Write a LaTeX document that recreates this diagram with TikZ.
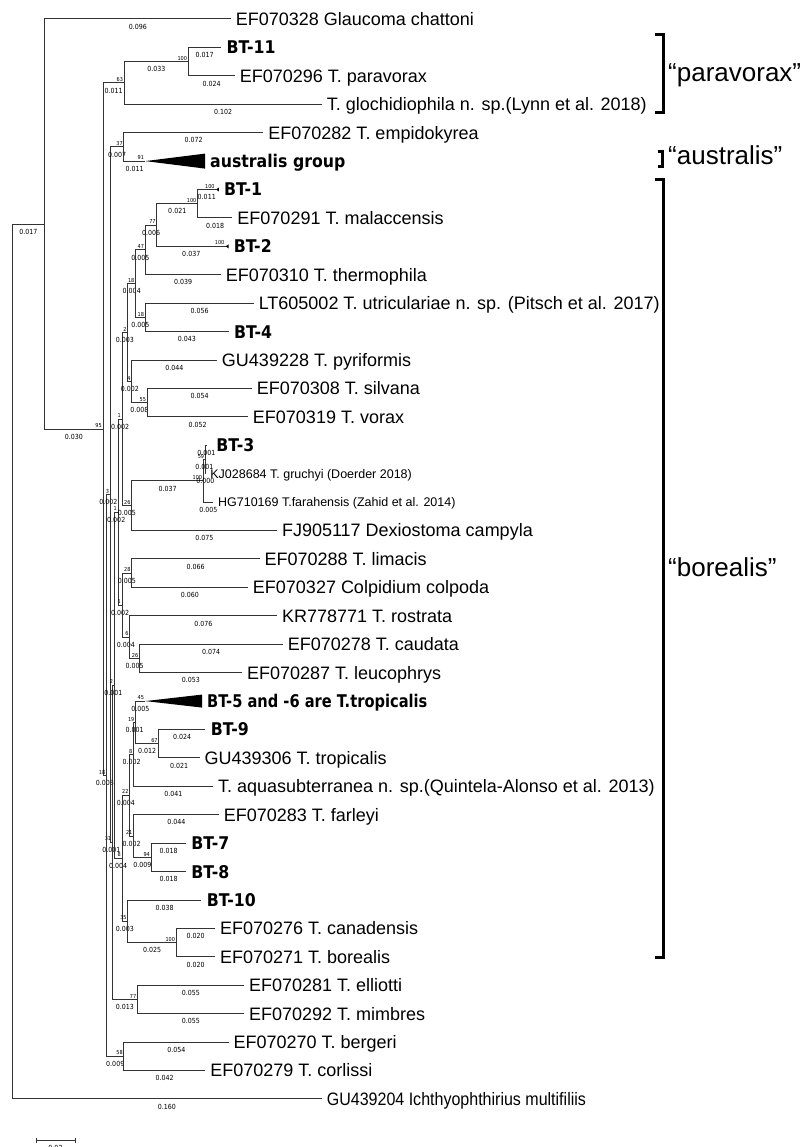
\documentclass[tikz,border=0pt]{standalone}
\usepackage{fontspec}
\setmainfont{Liberation Sans}
\newfontfamily\megafont{DejaVu Sans}[FakeStretch=0.9]
\usetikzlibrary{calc, math}
\definecolor{treegray}{RGB}{51,51,51}

\tikzset{
  branch/.style={draw=treegray, line width=1pt},
  clade/.style={fill=black},
  leaf/.style={anchor=base west, inner sep=0pt, xshift=4.5pt, yshift=-6.4pt, font=\fontsize{18}{20}\selectfont},
  bleaf/.style={anchor=base west, inner sep=0pt, xshift=5pt, yshift=-6.4pt, font=\megafont\bfseries\fontsize{17.5}{20}\selectfont},
  sleaf/.style={anchor=base west, inner sep=0pt, xshift=4.5pt, yshift=-4.5pt, font=\fontsize{12.5}{14}\selectfont},
  boot/.style={anchor=south east, inner sep=0.8pt, font=\megafont\fontsize{5.5}{6}\selectfont},
  blen/.style={anchor=north, inner sep=0pt, yshift=-4.5pt, font=\megafont\fontsize{7}{8}\selectfont},
  group/.style={anchor=base west, inner sep=0pt, font=\fontsize{26}{30}\selectfont},
  bracket/.style={draw=black, line width=3pt},
}

\begin{document}
\begin{tikzpicture}[x=1pt, y=-1pt]
\useasboundingbox (0,0) rectangle (803,1147);
\tikzmath{
\px=1937; % pixels per unit of branch length
\xR=12;
\xA=\xR+0.017*\px;
\xB=\xA+0.030*\px;
\xPa=\xB+0.011*\px;
\xPb=\xPa+0.033*\px;
\xQ=\xB+3.5;
\xD=\xQ+0.002*\px;
\xE=\xD+0.007*\px;
\xC=\xD+0.001*\px;
\xU=\xC+0.001*\px;
\xM=\xU+0.002*\px;
\xL=\xM+0.002*\px;
\xF=\xL+0.003*\px;
\xG=\xF+0.004*\px;
\xH=\xG+0.005*\px;
\xI=\xH+0.006*\px;
\xJ=\xI+0.021*\px;
\xK=\xG+0.005*\px;
\xN=\xF+0.002*\px;
\xO=\xN+0.008*\px;
\xS=\xL+0.005*\px;
\xT=\xS+0.037*\px;
\xV=\xT+0.001*\px;
\xW=\xM+0.002*\px;
\xX=\xW+0.005*\px;
\xY=\xW+0.004*\px;
\xZ=\xY+0.005*\px;
\xAa=\xU+0.004*\px;
\xAb=\xAa+0.004*\px;
\xAc=\xAb+0.002*\px;
\xAd=\xAc+0.001*\px;
\xAe=\xAd+0.012*\px;
\xAf=\xAb+0.002*\px;
\xAg=\xAf+0.009*\px;
\xAh=\xAa+0.003*\px;
\xAi=\xAh+0.025*\px;
\xAj=\xC+0.013*\px;
\xAk=\xQ+0.009*\px;
}

%inner nodes:
\coordinate (root) at (\xR,661.53);
\coordinate (nA) at (\xA,224.1);
\coordinate (nB) at (\xB,429.21);
\coordinate (nP) at (\xPa,82.95);
\coordinate (nPp) at (\xPb,61.63);
\coordinate (nQ) at (\xQ,775.48);
\coordinate (nD) at (\xD,494.62);
\coordinate (nE) at (\xE,146.89);
\coordinate (nC) at (\xC,842.35);
\coordinate (nU) at (\xU,685.2);
\coordinate (nM) at (\xM,512.13);
\coordinate (nL) at (\xL,419.1);
\coordinate (nF) at (\xF,332.51);
\coordinate (nG) at (\xG,283.66);
\coordinate (nH) at (\xH,249.91);
\coordinate (nI) at (\xI,225.05);
\coordinate (nJ) at (\xJ,203.73);
\coordinate (nK) at (\xK,317.41);
\coordinate (nN) at (\xN,381.36);
\coordinate (nO) at (\xO,402.67);
\coordinate (nS) at (\xS,505.69);
\coordinate (nT) at (\xT,480.83);
\coordinate (nV) at (\xV,459.51);
\coordinate (nW) at (\xW,605.16);
\coordinate (nX) at (\xX,573.19);
\coordinate (nY) at (\xY,637.14);
\coordinate (nZ) at (\xZ,658.45);
\coordinate (nAa) at (\xAa,858.28);
\coordinate (nAb) at (\xAb,795.22);
\coordinate (nAc) at (\xAc,754.37);
\coordinate (nAd) at (\xAd,722.4);
\coordinate (nAe) at (\xAe,743.71);
\coordinate (nAf) at (\xAf,836.08);
\coordinate (nAg) at (\xAg,857.39);
\coordinate (nAh) at (\xAh,921.34);
\coordinate (nAi) at (\xAi,942.65);
\coordinate (nAj) at (\xAj,999.49);
\coordinate (nAk) at (\xAk,1056.33);

%tips:
\coordinate (gla) at ({\xA+0.096*\px},19);
\coordinate (bt11) at ({\xPb+0.017*\px},47.42);
\coordinate (para) at ({\xPb+0.024*\px},75.84);
\coordinate (glo) at ({\xPa+0.102*\px},104.26);
\coordinate (emp) at ({\xE+0.072*\px},132.68);
\coordinate (aus) at ({\xE+0.011*\px},161.1);
\coordinate (ausR) at (205,161.1);
\coordinate (bt1) at ({\xJ+0.011*\px-3},189.52);
\coordinate (mal) at ({\xJ+0.018*\px},217.94);
\coordinate (bt2) at ({\xI+0.037*\px-3},246.36);
\coordinate (the) at ({\xH+0.039*\px},274.78);
\coordinate (utr) at ({\xK+0.056*\px},303.2);
\coordinate (bt4) at ({\xK+0.043*\px},331.62);
\coordinate (pyr) at ({\xN+0.044*\px},360.04);
\coordinate (sil) at ({\xO+0.054*\px},388.46);
\coordinate (vor) at ({\xO+0.052*\px},416.88);
\coordinate (bt3) at ({\xV+0.001*\px},445.3);
\coordinate (gru) at (\xV,473.72);
\coordinate (far) at ({\xT+0.005*\px},502.14);
\coordinate (dex) at ({\xS+0.075*\px},530.56);
\coordinate (lim) at ({\xX+0.066*\px},558.98);
\coordinate (col) at ({\xX+0.060*\px},587.4);
\coordinate (ros) at ({\xY+0.076*\px},615.82);
\coordinate (cau) at ({\xZ+0.074*\px},644.24);
\coordinate (leu) at ({\xZ+0.053*\px},672.66);
\coordinate (tro) at ({\xAd+0.005*\px},701.08);
\coordinate (troR) at (202,701.08);
\coordinate (bt9) at ({\xAe+0.024*\px},729.5);
\coordinate (trp) at ({\xAe+0.021*\px},757.92);
\coordinate (aqu) at ({\xAc+0.041*\px},786.34);
\coordinate (fle) at ({\xAf+0.044*\px},814.76);
\coordinate (bt7) at ({\xAg+0.018*\px},843.18);
\coordinate (bt8) at ({\xAg+0.018*\px},871.6);
\coordinate (bt10) at ({\xAh+0.038*\px},900.02);
\coordinate (can) at ({\xAi+0.020*\px},928.44);
\coordinate (bor) at ({\xAi+0.020*\px},956.86);
\coordinate (ell) at ({\xAj+0.055*\px},985.28);
\coordinate (mim) at ({\xAj+0.055*\px},1013.7);
\coordinate (ber) at ({\xAk+0.054*\px},1042.12);
\coordinate (cor) at ({\xAk+0.042*\px},1070.54);
\coordinate (ich) at ({\xR+0.160*\px},1098.96);

%root and outgroups
\draw[branch] (root) |- (nA) node[blen,pos=.75] (lA) {0.017};
\draw[branch] (root) |- (ich) node[blen,pos=.75] (lIch) {0.160} node[leaf,pos=1,xscale=.89] (tIch) {GU439204 Ichthyophthirius multifiliis};
\draw[branch] (nA) |- (gla) node[blen,pos=.75] (lGla) {0.096} node[leaf,pos=1] (tGla) {EF070328 Glaucoma chattoni};
\draw[branch] (nA) |- (nB) node[blen,pos=.75] (lB) {0.030} node[boot,pos=1] (bB) {95};

%paravorax
\draw[branch] (nB) |- (nP) node[blen,pos=.75] (lP) {0.011} node[boot,pos=1] (bP) {63};
\draw[branch] (nP) |- (nPp) node[blen,pos=.75] (lPp) {0.033} node[boot,pos=1] (bPp) {100};
\draw[branch] (nPp) |- (bt11) node[blen,pos=.75] (lBt11) {0.017} node[bleaf,pos=1] (tBt11) {BT-11};
\draw[branch] (nPp) |- (para) node[blen,pos=.75] (lPara) {0.024} node[leaf,pos=1] (tPara) {EF070296 T. paravorax};
\draw[branch] (nP) |- (glo) node[blen,pos=.75] (lGlo) {0.102} node[leaf,pos=1] (tGlo) {T. glochidiophila n. sp.(Lynn et al. 2018)};

%backbone
\draw[branch] (nB) |- (nQ) node[blen,pos=.75] (lQ) {0.008} node[boot,pos=1] (bQ) {18};
\draw[branch] (nQ) |- (nD) node[blen,pos=.75] (lD) {0.002} node[boot,pos=1] (bD) {3};
\draw[branch] (nD) |- (nE) node[blen,pos=.75] (lE) {0.007} node[boot,pos=1] (bE) {37};
\draw[branch] (nD) |- (nC) node[blen,pos=.75] (lC) {0.001} node[boot,pos=1] (bC) {31};
\draw[branch] (nC) |- (nU) node[blen,pos=.75] (lU) {0.001} node[boot,pos=1] (bU) {2};
\draw[branch] (nU) |- (nM) node[blen,pos=.75] (lM) {0.002} node[boot,pos=1] (bM) {1};
\draw[branch] (nM) |- (nL) node[blen,pos=.75] (lL) {0.002} node[boot,pos=1] (bL) {1};
\draw[branch] (nM) |- (nW) node[blen,pos=.75] (lW) {0.002} node[boot,pos=1] (bW) {1};
\draw[branch] (nU) |- (nAa) node[blen,pos=.75] (lAa) {0.004} node[boot,pos=1] (bAa) {8};
\draw[branch] (nC) |- (nAj) node[blen,pos=.75] (lAj) {0.013} node[boot,pos=1] (bAj) {77};
\draw[branch] (nQ) |- (nAk) node[blen,pos=.75] (lAk) {0.009} node[boot,pos=1] (bAk) {58};

%australis
\draw[branch] (nE) |- (emp) node[blen,pos=.75] (lEmp) {0.072} node[leaf,pos=1] (tEmp) {EF070282 T. empidokyrea};
\draw[branch] (nE) |- (aus) node[blen,pos=.75] (lAus) {0.011} node[boot,pos=1] (bAus) {91};
\fill[clade] (aus) -- ($(ausR)+(0,-7.5)$) -- ($(ausR)+(0,7.5)$) -- cycle;
\node[bleaf] (tAus) at (ausR) {australis group};

%BT-1, BT-2, thermophila, BT-4
\draw[branch] (nL) |- (nF) node[blen,pos=.75] (lF) {0.003} node[boot,pos=1] (bF) {2};
\draw[branch] (nF) |- (nG) node[blen,pos=.75] (lG) {0.004} node[boot,pos=1] (bG) {18};
\draw[branch] (nG) |- (nH) node[blen,pos=.75] (lH) {0.005} node[boot,pos=1] (bH) {47};
\draw[branch] (nH) |- (nI) node[blen,pos=.75] (lI) {0.006} node[boot,pos=1] (bI) {77};
\draw[branch] (nI) |- (nJ) node[blen,pos=.75] (lJ) {0.021} node[boot,pos=1] (bJ) {100};
\draw[branch] (nJ) |- (bt1) node[blen,pos=.75] (lBt1) {0.011} node[boot,pos=1] (bBt1) {100};
\fill[clade] (bt1) -- ++(3,-2) -- ++(0,4) -- cycle;
\node[bleaf,xshift=3pt] (tBt1) at (bt1) {BT-1};
\draw[branch] (nJ) |- (mal) node[blen,pos=.75] (lMal) {0.018} node[leaf,pos=1] (tMal) {EF070291 T. malaccensis};
\draw[branch] (nI) |- (bt2) node[blen,pos=.75] (lBt2) {0.037} node[boot,pos=1] (bBt2) {100};
\fill[clade] (bt2) -- ++(3,-2) -- ++(0,4) -- cycle;
\node[bleaf,xshift=3pt] (tBt2) at (bt2) {BT-2};
\draw[branch] (nH) |- (the) node[blen,pos=.75] (lThe) {0.039} node[leaf,pos=1] (tThe) {EF070310 T. thermophila};
\draw[branch] (nG) |- (nK) node[blen,pos=.75] (lK) {0.005} node[boot,pos=1] (bK) {18};
\draw[branch] (nK) |- (utr) node[blen,pos=.75] (lUtr) {0.056} node[leaf,pos=1] (tUtr) {LT605002 T. utriculariae n. sp. (Pitsch et al. 2017)};
\draw[branch] (nK) |- (bt4) node[blen,pos=.75] (lBt4) {0.043} node[bleaf,pos=1] (tBt4) {BT-4};
\draw[branch] (nF) |- (nN) node[blen,pos=.75] (lN) {0.002} node[boot,pos=1] (bN) {4};
\draw[branch] (nN) |- (pyr) node[blen,pos=.75] (lPyr) {0.044} node[leaf,pos=1] (tPyr) {GU439228 T. pyriformis};
\draw[branch] (nN) |- (nO) node[blen,pos=.75] (lO) {0.008} node[boot,pos=1] (bO) {55};
\draw[branch] (nO) |- (sil) node[blen,pos=.75] (lSil) {0.054} node[leaf,pos=1] (tSil) {EF070308 T. silvana};
\draw[branch] (nO) |- (vor) node[blen,pos=.75] (lVor) {0.052} node[leaf,pos=1] (tVor) {EF070319 T. vorax};

%BT-3 and Dexiostoma
\draw[branch] (nL) |- (nS) node[blen,pos=.75] (lS) {0.005} node[boot,pos=1] (bS) {26};
\draw[branch] (nS) |- (nT) node[blen,pos=.75] (lT) {0.037} node[boot,pos=1] (bT) {100};
\draw[branch] (nT) |- (nV) node[blen,pos=.75] (lV) {0.001} node[boot,pos=1] (bV) {59};
\draw[branch] (nV) |- (bt3) node[blen,pos=.75] (lBt3) {0.001} node[bleaf,pos=1,xshift=3.5pt] (tBt3) {BT-3};
\draw[branch] (nV) |- (gru) node[blen,pos=.75] (lGru) {0.000} node[sleaf,pos=1] (tGru) {KJ028684 T. gruchyi (Doerder 2018)};
\draw[branch] (nT) |- (far) node[blen,pos=.75] (lFar) {0.005} node[sleaf,pos=1] (tFar) {HG710169 T.farahensis (Zahid et al. 2014)};
\draw[branch] (nS) |- (dex) node[blen,pos=.75] (lDex) {0.075} node[leaf,pos=1] (tDex) {FJ905117 Dexiostoma campyla};

%limacis to leucophrys
\draw[branch] (nW) |- (nX) node[blen,pos=.75] (lX) {0.005} node[boot,pos=1] (bX) {28};
\draw[branch] (nX) |- (lim) node[blen,pos=.75] (lLim) {0.066} node[leaf,pos=1] (tLim) {EF070288 T. limacis};
\draw[branch] (nX) |- (col) node[blen,pos=.75] (lCol) {0.060} node[leaf,pos=1] (tCol) {EF070327 Colpidium colpoda};
\draw[branch] (nW) |- (nY) node[blen,pos=.75] (lY) {0.004} node[boot,pos=1] (bY) {6};
\draw[branch] (nY) |- (ros) node[blen,pos=.75] (lRos) {0.076} node[leaf,pos=1] (tRos) {KR778771 T. rostrata};
\draw[branch] (nY) |- (nZ) node[blen,pos=.75] (lZ) {0.005} node[boot,pos=1] (bZ) {26};
\draw[branch] (nZ) |- (cau) node[blen,pos=.75] (lCau) {0.074} node[leaf,pos=1] (tCau) {EF070278 T. caudata};
\draw[branch] (nZ) |- (leu) node[blen,pos=.75] (lLeu) {0.053} node[leaf,pos=1] (tLeu) {EF070287 T. leucophrys};

%tropicalis to borealis
\draw[branch] (nAa) |- (nAb) node[blen,pos=.75] (lAb) {0.004} node[boot,pos=1] (bAb) {22};
\draw[branch] (nAb) |- (nAc) node[blen,pos=.75] (lAc) {0.002} node[boot,pos=1] (bAc) {8};
\draw[branch] (nAc) |- (nAd) node[blen,pos=.75] (lAd) {0.001} node[boot,pos=1] (bAd) {19};
\draw[branch] (nAd) |- (tro) node[blen,pos=.75] (lTro) {0.005} node[boot,pos=1] (bTro) {45};
\fill[clade] (tro) -- ($(troR)+(0,-6.5)$) -- ($(troR)+(0,6.5)$) -- cycle;
\node[bleaf,xscale=.93] (tTro) at (troR) {BT-5 and -6 are T.tropicalis};
\draw[branch] (nAd) |- (nAe) node[blen,pos=.75] (lAe) {0.012} node[boot,pos=1] (bAe) {67};
\draw[branch] (nAe) |- (bt9) node[blen,pos=.75] (lBt9) {0.024} node[bleaf,pos=1] (tBt9) {BT-9};
\draw[branch] (nAe) |- (trp) node[blen,pos=.75] (lTrp) {0.021} node[leaf,pos=1] (tTrp) {GU439306 T. tropicalis};
\draw[branch] (nAc) |- (aqu) node[blen,pos=.75] (lAqu) {0.041} node[leaf,pos=1] (tAqu) {T. aquasubterranea n. sp.(Quintela-Alonso et al. 2013)};
\draw[branch] (nAb) |- (nAf) node[blen,pos=.75] (lAf) {0.002} node[boot,pos=1] (bAf) {21};
\draw[branch] (nAf) |- (fle) node[blen,pos=.75] (lFle) {0.044} node[leaf,pos=1] (tFle) {EF070283 T. farleyi};
\draw[branch] (nAf) |- (nAg) node[blen,pos=.75] (lAg) {0.009} node[boot,pos=1] (bAg) {94};
\draw[branch] (nAg) |- (bt7) node[blen,pos=.75] (lBt7) {0.018} node[bleaf,pos=1] (tBt7) {BT-7};
\draw[branch] (nAg) |- (bt8) node[blen,pos=.75] (lBt8) {0.018} node[bleaf,pos=1] (tBt8) {BT-8};
\draw[branch] (nAa) |- (nAh) node[blen,pos=.75] (lAh) {0.003} node[boot,pos=1] (bAh) {35};
\draw[branch] (nAh) |- (bt10) node[blen,pos=.75] (lBt10) {0.038} node[bleaf,pos=1] (tBt10) {BT-10};
\draw[branch] (nAh) |- (nAi) node[blen,pos=.75] (lAi) {0.025} node[boot,pos=1] (bAi) {100};
\draw[branch] (nAi) |- (can) node[blen,pos=.75] (lCan) {0.020} node[leaf,pos=1] (tCan) {EF070276 T. canadensis};
\draw[branch] (nAi) |- (bor) node[blen,pos=.75] (lBor) {0.020} node[leaf,pos=1] (tBor) {EF070271 T. borealis};

%elliotti, bergeri
\draw[branch] (nAj) |- (ell) node[blen,pos=.75] (lEll) {0.055} node[leaf,pos=1] (tEll) {EF070281 T. elliotti};
\draw[branch] (nAj) |- (mim) node[blen,pos=.75] (lMim) {0.055} node[leaf,pos=1] (tMim) {EF070292 T. mimbres};
\draw[branch] (nAk) |- (ber) node[blen,pos=.75] (lBer) {0.054} node[leaf,pos=1] (tBer) {EF070270 T. bergeri};
\draw[branch] (nAk) |- (cor) node[blen,pos=.75] (lCor) {0.042} node[leaf,pos=1] (tCor) {EF070279 T. corlissi};

%groups:
\draw[bracket] (655,35) -| (663,113) -- (655,113);
\node[group] (gPara) at (668,82) {“paravorax”};
\draw[bracket] (658,152) -| (662,167) -- (658,167);
\node[group] (gAus) at (668,165) {“australis”};
\draw[bracket] (655,180) -| (663,957) -- (655,957);
\node[group] (gBor) at (668,576) {“borealis”};

%scale bar
\coordinate (sb0) at (36,1140);
\coordinate (sb1) at (75,1140);
\draw[branch] (sb0) -- (sb1) node[blen,midway] (lSb) {0.02};
\draw[branch] (sb0) ++(0,-2.5) -- ++(0,5);
\draw[branch] (sb1) ++(0,-2.5) -- ++(0,5);
\end{tikzpicture}
\end{document}
